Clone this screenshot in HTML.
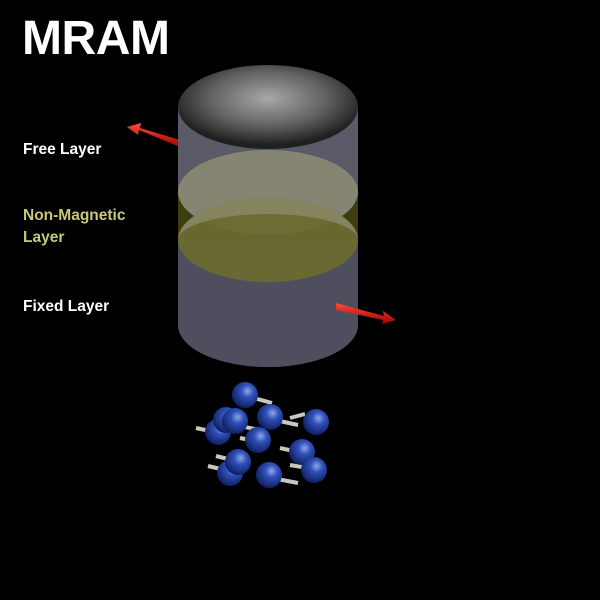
<!DOCTYPE html>
<html><head><style>
html,body{margin:0;padding:0;background:#000;}
</style></head><body>
<svg width="600" height="600" viewBox="0 0 600 600" xmlns="http://www.w3.org/2000/svg" style="display:block">
<defs>
<radialGradient id="top" cx="0.5" cy="0.4" r="0.55">
<stop offset="0" stop-color="#a8a8a8"/><stop offset="0.6" stop-color="#606060"/><stop offset="1" stop-color="#202020"/>
</radialGradient>
<radialGradient id="ball" cx="0.6" cy="0.35" r="0.7">
<stop offset="0" stop-color="#8fa6e8"/><stop offset="0.35" stop-color="#3050b8"/><stop offset="1" stop-color="#0c1a5a"/>
</radialGradient>
<linearGradient id="red" x1="0" y1="0" x2="0" y2="1">
<stop offset="0" stop-color="#ff4a3a"/><stop offset="1" stop-color="#a00000"/>
</linearGradient>
<g id="b"><circle r="13" fill="url(#ball)"/></g>
</defs>
<rect width="600" height="600" fill="#000"/>
<text x="22" y="54" font-family="Liberation Sans, sans-serif" font-weight="bold" font-size="48" fill="#fff" textLength="148">MRAM</text>
<text x="23" y="154" font-family="Liberation Sans, sans-serif" font-weight="bold" font-size="15.5" fill="#fff">Free Layer</text>
<text x="23" y="220" font-family="Liberation Sans, sans-serif" font-weight="bold" font-size="15.5" fill="#c8c87a">Non-Magnetic</text>
<text x="23" y="242" font-family="Liberation Sans, sans-serif" font-weight="bold" font-size="15.5" fill="#c8c87a">Layer</text>
<text x="23" y="311" font-family="Liberation Sans, sans-serif" font-weight="bold" font-size="15.5" fill="#fff">Fixed Layer</text>
<polygon points="180,140 140,128 141,123 127,127 138,135 139,130 180,147" fill="url(#red)"/>
<path d="M178,107 L178,325 A90,42 0 0 0 358,325 L358,107 Z" fill="#55556a"/>
<rect x="178" y="192" width="180" height="48" fill="#3d3d10"/>
<path d="M178,107 L178,192 A90,42 0 0 0 358,192 L358,107 Z" fill="#5a5a68"/>
<ellipse cx="268" cy="192" rx="90" ry="42" fill="#8a8a72" opacity="0.9"/>
<path d="M178,240 L178,325 A90,42 0 0 0 358,325 L358,240 Z" fill="#4e4e5e"/>
<ellipse cx="268" cy="240" rx="90" ry="42" fill="#6a6a30" opacity="0.95"/>
<path d="M178,240 A90,42 0 0 1 358,240 A90,26 0 0 0 178,240Z" fill="#8e8e72" opacity="0.7"/>
<ellipse cx="268" cy="107" rx="90" ry="42" fill="url(#top)"/>
<polygon points="336,303 384,316 383,311 396,320 382,324 383,320 336,310" fill="url(#red)"/>
<g stroke="#c8c8c0" stroke-width="4" fill="none">
<line x1="250" y1="397" x2="272" y2="403"/>
<line x1="290" y1="418" x2="305" y2="414"/>
<line x1="275" y1="420" x2="298" y2="425"/>
<line x1="235" y1="425" x2="260" y2="430"/>
<line x1="196" y1="428" x2="215" y2="432"/>
<line x1="240" y1="438" x2="255" y2="441"/>
<line x1="280" y1="448" x2="298" y2="452"/>
<line x1="216" y1="456" x2="232" y2="460"/>
<line x1="208" y1="466" x2="225" y2="470"/>
<line x1="290" y1="465" x2="308" y2="468"/>
<line x1="272" y1="478" x2="298" y2="483"/>
</g>
<use href="#b" x="245" y="395"/>
<use href="#b" x="316" y="422"/>
<use href="#b" x="218" y="432"/>
<use href="#b" x="226" y="420"/>
<use href="#b" x="258" y="440"/>
<use href="#b" x="235" y="421"/>
<use href="#b" x="270" y="417"/>
<use href="#b" x="302" y="452"/>
<use href="#b" x="314" y="470"/>
<use href="#b" x="230" y="473"/>
<use href="#b" x="238" y="462"/>
<use href="#b" x="269" y="475"/>
</svg>
</body></html>
